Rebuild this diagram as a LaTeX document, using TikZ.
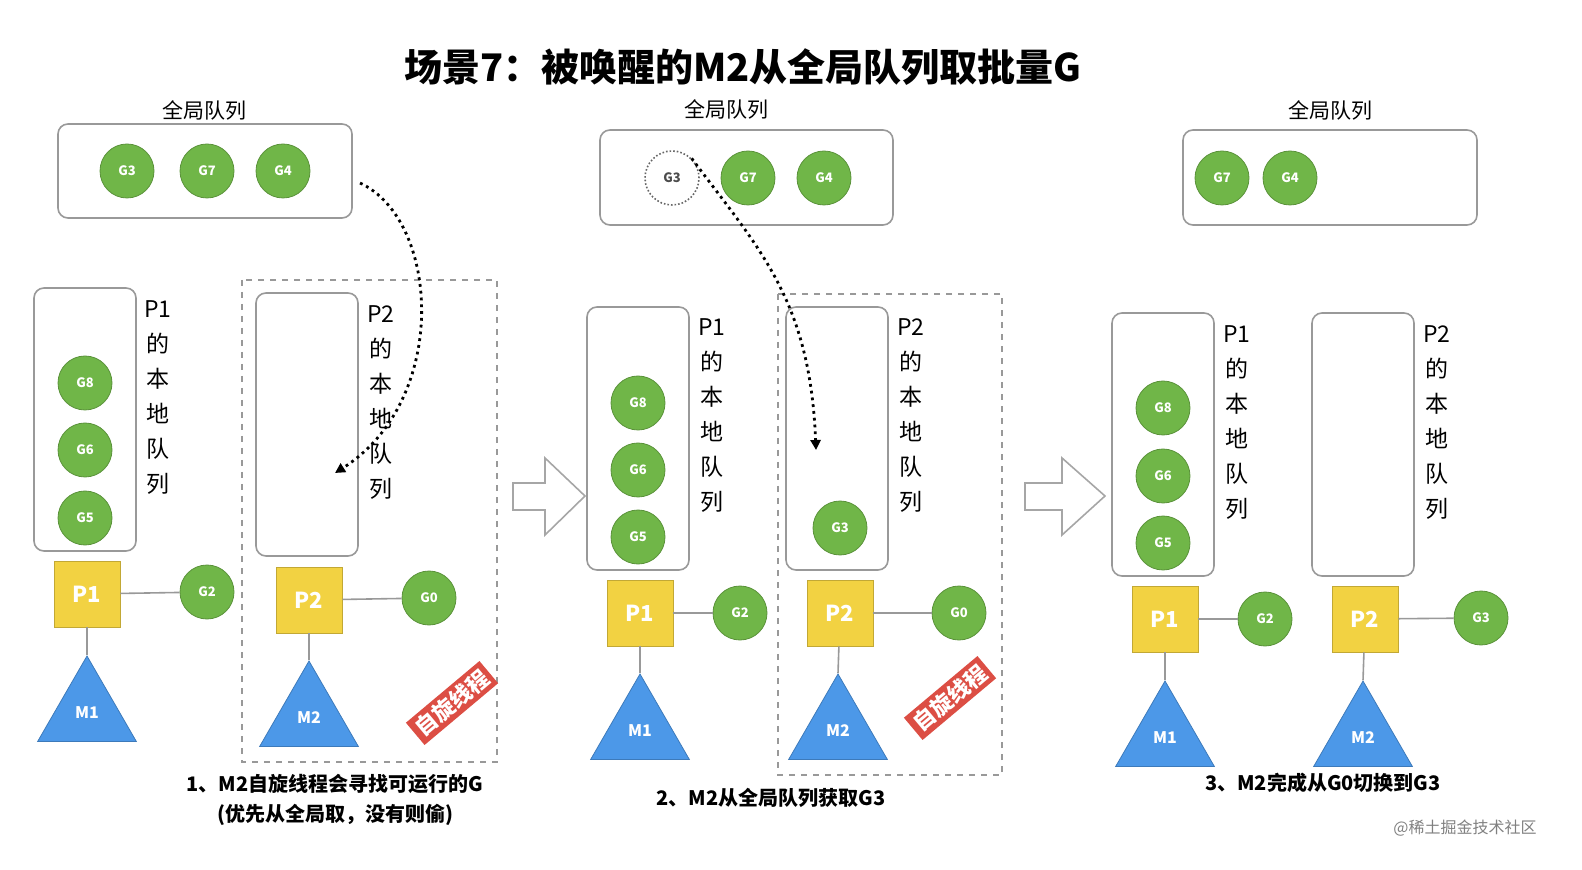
\documentclass[tikz,border=0pt]{standalone}
\usepackage{fontspec}
\setmainfont{Noto Sans CJK SC}
\usetikzlibrary{shapes.geometric, arrows.meta}
\definecolor{ggreen}{RGB}{112,182,72}
\definecolor{gyellow}{RGB}{242,210,66}
\definecolor{mblue}{RGB}{76,152,232}
\definecolor{sred}{RGB}{220,78,68}
\begin{document}
\begin{tikzpicture}[x=0.5pt, y=-0.5pt,
    gnode/.style = {draw=ggreen!80!black, fill=ggreen, circle, minimum size=27pt, inner sep=0pt, text=white, font=\fontsize{6.5}{7}\selectfont\bfseries},
    gghost/.style = {draw=black!60, densely dotted, thick, circle, minimum size=27pt, inner sep=0pt, text=black!70, font=\fontsize{6.5}{7}\selectfont\bfseries},
    pnode/.style = {draw=gyellow!80!black, fill=gyellow, rectangle, minimum size=33pt, inner sep=0pt, text=white, font=\fontsize{11}{12}\selectfont\bfseries},
    mnode/.style = {draw=mblue!80!black, fill=mblue, regular polygon, regular polygon sides=3, minimum size=57pt, inner sep=0pt, text=white, font=\fontsize{8}{9}\selectfont\bfseries},
    queue/.style = {draw=gray!80, rounded corners=5pt, thick},
    lqtext/.style = {anchor=north, align=center, inner sep=0pt, font=\fontsize{11.5}{17.5}\selectfont},
    qlabel/.style = {font=\fontsize{10.5}{12}\selectfont},
    spin/.style = {draw=gray!80, dashed, thick},
    stamp/.style = {fill=sred, text=white, rotate=40, font=\fontsize{11}{12}\selectfont\bfseries, inner sep=2pt},
    caption/.style = {font=\fontsize{10}{15}\selectfont\bfseries, align=center},
    link/.style = {draw=gray!80, thick},
    steal/.style = {dotted, line width=1.4pt, -{Triangle[length=5pt,width=5pt]}},
    bigarrow/.style = {draw=gray!70, thick, fill=white}
  ]
\useasboundingbox (0,0) rectangle (1582,870);

\node (title) at (743,67) {\fontsize{19}{22}\selectfont\bfseries 场景7：被唤醒的M2从全局队列取批量G};

% panel 1
\draw[queue] (58,124) rectangle (352,218);
\node[qlabel] (gq1) at (204,110) {全局队列};
\node[gnode] (g3a) at (127,171) {G3};
\node[gnode] (g7a) at (207,171) {G7};
\node[gnode] (g4a) at (283,171) {G4};
\draw[queue] (34,288) rectangle (136,551);
\node[gnode] (g8a) at (85,383) {G8};
\node[gnode] (g6a) at (85,450) {G6};
\node[gnode] (g5a) at (85,518) {G5};
\node[lqtext] (lq1a) at (158,300) {P1\\的\\本\\地\\队\\列};
\node[pnode] (p1a) at (87,594) {P1};
\node[gnode] (g2a) at (207,592) {G2};
\node[mnode] (m1a) at (87,713) {M1};
\draw[link] (p1a) -- (g2a);
\draw[link] (p1a) -- (m1a.corner 1);
\draw[spin] (242,280) rectangle (497,762);
\draw[queue] (256,293) rectangle (358,556);
\node[lqtext] (lq2a) at (381,305) {P2\\的\\本\\地\\队\\列};
\node[pnode] (p2a) at (309,600) {P2};
\node[gnode] (g0a) at (429,598) {G0};
\node[mnode] (m2a) at (309,718) {M2};
\draw[link] (p2a) -- (g0a);
\draw[link] (p2a) -- (m2a.corner 1);
\node[stamp] (spa) at (452,703) {自旋线程};
\coordinate (fromA) at (360,183);
\coordinate (toA) at (335,473);
\draw[steal] (fromA) .. controls (440,220) and (450,400) .. (toA);
\node[caption] (capa) at (335,800) {1、M2自旋线程会寻找可运行的G\\(优先从全局取，没有则偷)};
\draw[bigarrow] (513,483) -- (545,483) -- (545,458) -- (585,496) -- (545,535) -- (545,510) -- (513,510) -- cycle;

% panel 2
\draw[queue] (600,130) rectangle (893,225);
\node[qlabel] (gq2) at (726,109) {全局队列};
\node[gghost] (g3b) at (672,178) {G3};
\node[gnode] (g7b) at (748,178) {G7};
\node[gnode] (g4b) at (824,178) {G4};
\draw[queue] (587,307) rectangle (689,570);
\node[gnode] (g8b) at (638,403) {G8};
\node[gnode] (g6b) at (638,470) {G6};
\node[gnode] (g5b) at (638,537) {G5};
\node[lqtext] (lq1b) at (712,318) {P1\\的\\本\\地\\队\\列};
\node[pnode] (p1b) at (640,613) {P1};
\node[gnode] (g2b) at (740,613) {G2};
\node[mnode] (m1b) at (640,731) {M1};
\draw[link] (p1b) -- (g2b);
\draw[link] (p1b) -- (m1b.corner 1);
\draw[spin] (778,294) rectangle (1002,775);
\draw[queue] (786,307) rectangle (888,570);
\node[gnode] (g3c) at (840,528) {G3};
\node[lqtext] (lq2b) at (911,318) {P2\\的\\本\\地\\队\\列};
\node[pnode] (p2b) at (840,613) {P2};
\node[gnode] (g0b) at (959,613) {G0};
\node[mnode] (m2b) at (838,731) {M2};
\draw[link] (p2b) -- (g0b);
\draw[link] (p2b) -- (m2b.corner 1);
\node[stamp] (spb) at (950,698) {自旋线程};
\coordinate (toB) at (816,450);
\draw[steal] (g3b.north east) .. controls (760,250) and (810,300) .. (toB);
\node[caption] (capb) at (771,798) {2、M2从全局队列获取G3};
\draw[bigarrow] (1025,483) -- (1062,483) -- (1062,458) -- (1105,496) -- (1062,535) -- (1062,510) -- (1025,510) -- cycle;

% panel 3
\draw[queue] (1183,130) rectangle (1477,225);
\node[qlabel] (gq3) at (1330,110) {全局队列};
\node[gnode] (g7c) at (1222,178) {G7};
\node[gnode] (g4c) at (1290,178) {G4};
\draw[queue] (1112,313) rectangle (1214,576);
\node[gnode] (g8c) at (1163,408) {G8};
\node[gnode] (g6c) at (1163,476) {G6};
\node[gnode] (g5c) at (1163,543) {G5};
\node[lqtext] (lq1c) at (1237,325) {P1\\的\\本\\地\\队\\列};
\node[pnode] (p1c) at (1165,619) {P1};
\node[gnode] (g2c) at (1265,619) {G2};
\node[mnode] (m1c) at (1165,738) {M1};
\draw[link] (p1c) -- (g2c);
\draw[link] (p1c) -- (m1c.corner 1);
\draw[queue] (1312,313) rectangle (1414,576);
\node[lqtext] (lq2c) at (1437,325) {P2\\的\\本\\地\\队\\列};
\node[pnode] (p2c) at (1365,619) {P2};
\node[gnode] (g3d) at (1481,618) {G3};
\node[mnode] (m2c) at (1363,738) {M2};
\draw[link] (p2c) -- (g3d);
\draw[link] (p2c) -- (m2c.corner 1);
\node[caption] (capc) at (1323,783) {3、M2完成从G0切换到G3};

\node[text=gray, font=\fontsize{8}{9}\selectfont] (mark) at (1465,828) {@稀土掘金技术社区};
\end{tikzpicture}
\end{document}
